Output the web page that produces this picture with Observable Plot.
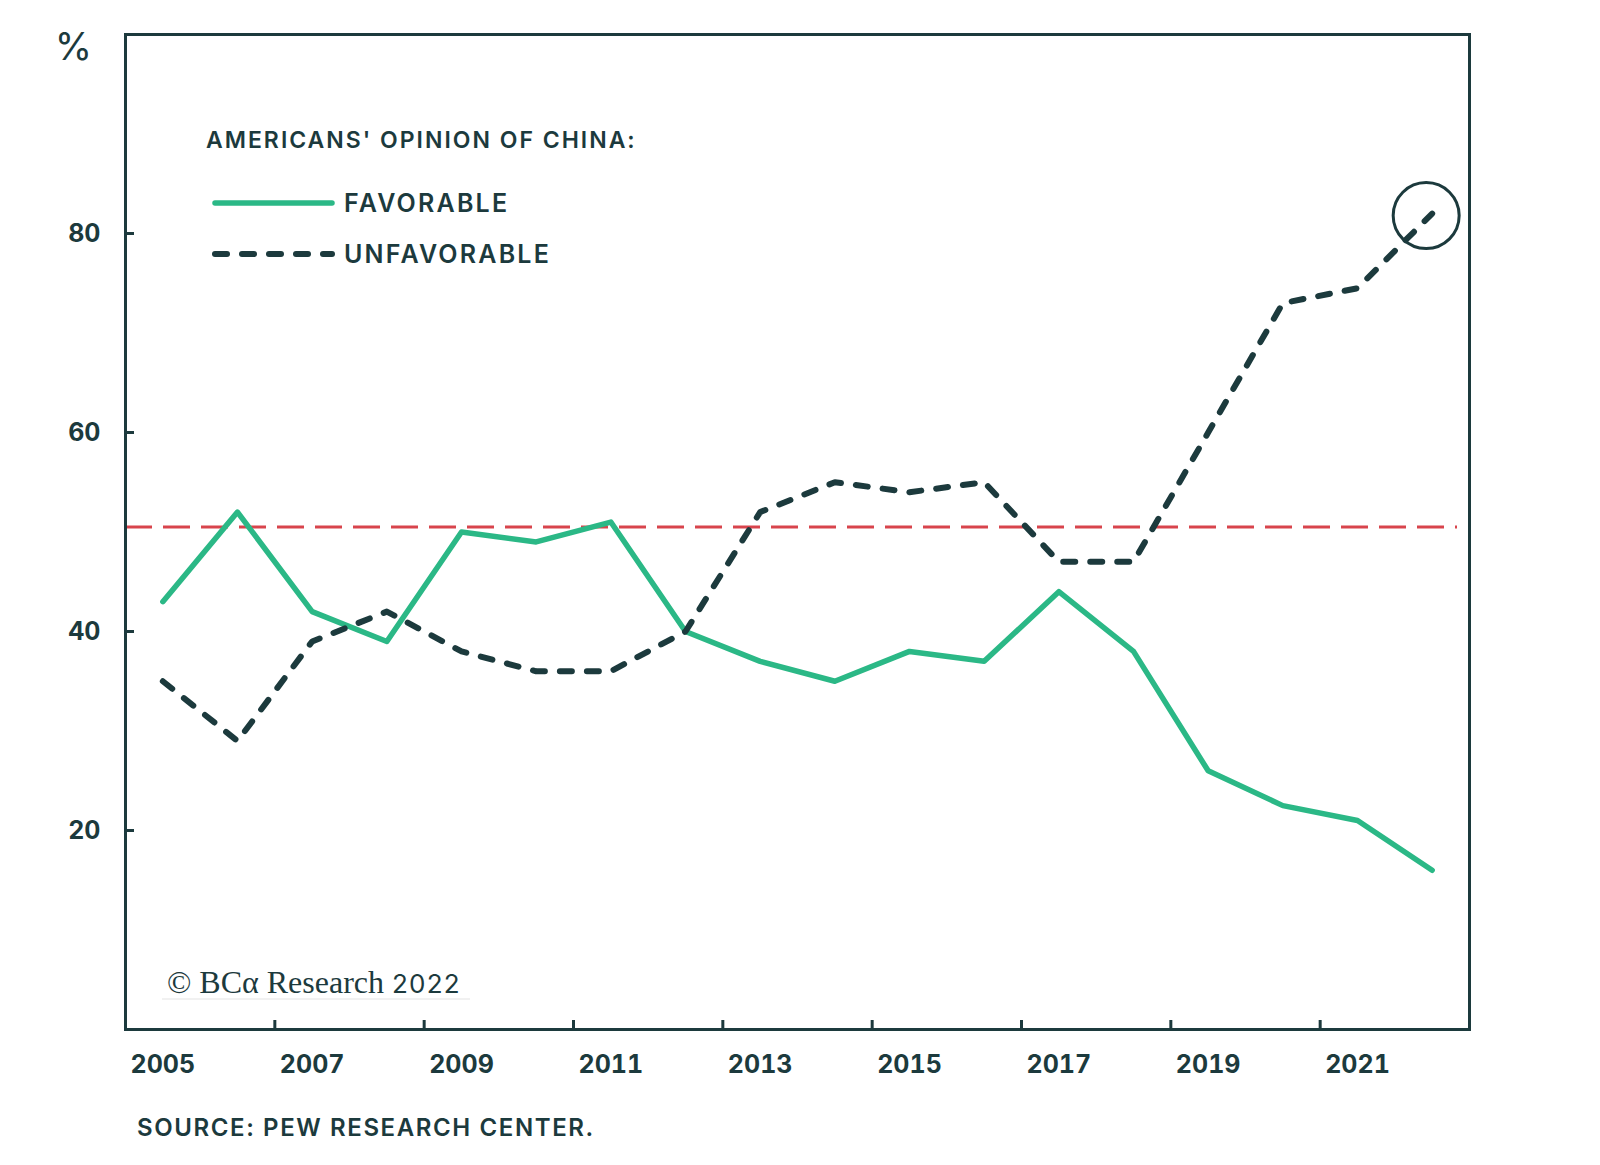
<!DOCTYPE html>
<html>
<head>
<meta charset="utf-8">
<script src="https://cdn.jsdelivr.net/npm/d3@7"></script>
<script src="https://cdn.jsdelivr.net/npm/@observablehq/plot@0.6"></script>
<style>
  html, body { margin: 0; padding: 0; background: #fff; }
  #wrap { position: relative; width: 1600px; height: 1165px; font-family: Inter, "Noto Sans", sans-serif; }
  #overlay { position: absolute; left: 0; top: 0; pointer-events: none; }
</style>
</head>
<body>
<div id="wrap">
  <div id="chart"></div>
  <svg id="overlay" width="1600" height="1165"></svg>
</div>
<script>
// ---- data ----
const years = [2005, 2006, 2007, 2008, 2009, 2010, 2011, 2012, 2013, 2014, 2015, 2016, 2017, 2018, 2019, 2020, 2021, 2022];
const favorable = [43, 52, 42, 39, 50, 49, 51, 40, 37, 35, 38, 37, 44, 38, 26, 22.5, 21, 16];
const unfavorable = [35, 29, 39, 42, 38, 36, 36, 40, 52, 55, 54, 55, 47, 47, 60, 73, 74.5, 82];
const referenceLevel = 50.5;
const yTicks = [20, 40, 60, 80];
const xLabelYears = [2005, 2007, 2009, 2011, 2013, 2015, 2017, 2019, 2021];
const xTickYears = [2007, 2009, 2011, 2013, 2015, 2017, 2019, 2021];
const legendTitle = "AMERICANS' OPINION OF CHINA:";
const seriesNames = ["FAVORABLE", "UNFAVORABLE"];
const sourceText = "SOURCE: PEW RESEARCH CENTER.";

// ---- styles ----
const DARK = "#1c3a3d";
const GREEN = "#2bb886";
const RED = "#d8444c";
const W = 1600, H = 1100;
const mL = 125, mR = 131, mT = 34, mB = 71;
const plotW = W - mL - mR, plotH = H - mT - mB;

const favData = years.map((y, i) => ({x: y + 0.5, v: favorable[i]}));
const unfData = years.map((y, i) => ({x: y + 0.5, v: unfavorable[i]}));
const last = unfData[unfData.length - 1];

const chart = Plot.plot({
  width: W, height: H,
  marginLeft: mL, marginRight: mR, marginTop: mT, marginBottom: mB,
  style: {fontFamily: "Inter, 'Noto Sans', sans-serif", color: DARK, background: "transparent"},
  x: {domain: [2005, 2023]},
  y: {domain: [0, 100]},
  marks: [
    Plot.ruleY([referenceLevel], {stroke: RED, strokeWidth: 3, strokeDasharray: "27,11", insetRight: 12}),
    Plot.line(favData, {x: "x", y: "v", stroke: GREEN, strokeWidth: 5.5, strokeLinejoin: "round", strokeLinecap: "round"}),
    Plot.line(unfData, {x: "x", y: "v", stroke: DARK, strokeWidth: 6, strokeDasharray: "12,15", strokeLinecap: "round", strokeLinejoin: "round"}),
    Plot.dot([last], {x: "x", y: "v", r: 33, stroke: DARK, strokeWidth: 3, fill: "none", dx: -6, dy: 2}),
    Plot.tickY(yTicks, {y: d => d, stroke: DARK, strokeWidth: 3, insetRight: plotW - 9}),
    Plot.tickX(xTickYears, {x: d => d, stroke: DARK, strokeWidth: 3, insetTop: plotH - 9}),
    Plot.axisY(yTicks, {tickSize: 0, tickPadding: 25, fontSize: 25, fontWeight: 700, fill: DARK, label: null}),
    Plot.axisX(xLabelYears.map(y => y + 0.5), {tickSize: 0, tickPadding: 26, fontSize: 25, fontWeight: 700, fill: DARK, label: null, tickFormat: d => String(Math.floor(d))}),
    Plot.text(["%"], {text: d => d, frameAnchor: "top-left", dx: -52, dy: 13, fontSize: 38, fontWeight: 400, fill: DARK, textAnchor: "middle", lineAnchor: "middle"}),
    Plot.frame({stroke: DARK, strokeWidth: 3})
  ]
});
document.getElementById("chart").appendChild(chart);

// ---- overlay: legend, watermark, source ----
const ov = d3.select("#overlay");
ov.append("text").attr("x", 206).attr("y", 148).attr("fill", DARK)
  .attr("font-size", 23).attr("font-weight", 600).attr("letter-spacing", 2).attr("font-family", "Inter, sans-serif").text(legendTitle);
const rows = [
  {name: seriesNames[0], y: 203, stroke: GREEN, dash: null, w: 5.5},
  {name: seriesNames[1], y: 254, stroke: DARK, dash: "12,15", w: 6}
];
rows.forEach(r => {
  const ln = ov.append("line").attr("x1", 215).attr("x2", 332).attr("y1", r.y).attr("y2", r.y)
    .attr("stroke", r.stroke).attr("stroke-width", r.w).attr("stroke-linecap", "round");
  if (r.dash) ln.attr("stroke-dasharray", r.dash);
  ov.append("text").attr("x", 344).attr("y", r.y + 9).attr("fill", DARK)
    .attr("font-size", 25).attr("font-weight", 600).attr("letter-spacing", 2.2).attr("font-family", "Inter, sans-serif").text(r.name);
});
// watermark
ov.append("line").attr("x1", 162).attr("x2", 470).attr("y1", 999).attr("y2", 999).attr("stroke", "#ececec").attr("stroke-width", 1.5);
const wm = ov.append("text").attr("x", 167).attr("y", 993).attr("fill", DARK).attr("font-size", 32);
wm.append("tspan").attr("font-family", "'Liberation Serif', 'DejaVu Serif', serif").text("© BCα Research ");
wm.append("tspan").attr("font-family", "Inter, 'Noto Sans', sans-serif").attr("font-size", 26).attr("font-weight", 400).attr("letter-spacing", 1.2).text("2022");
// source
ov.append("text").attr("x", 137).attr("y", 1136).attr("fill", DARK)
  .attr("font-size", 24).attr("font-weight", 600).attr("letter-spacing", 1.6).attr("font-family", "Inter, sans-serif").text(sourceText);
</script>
</body>
</html>
